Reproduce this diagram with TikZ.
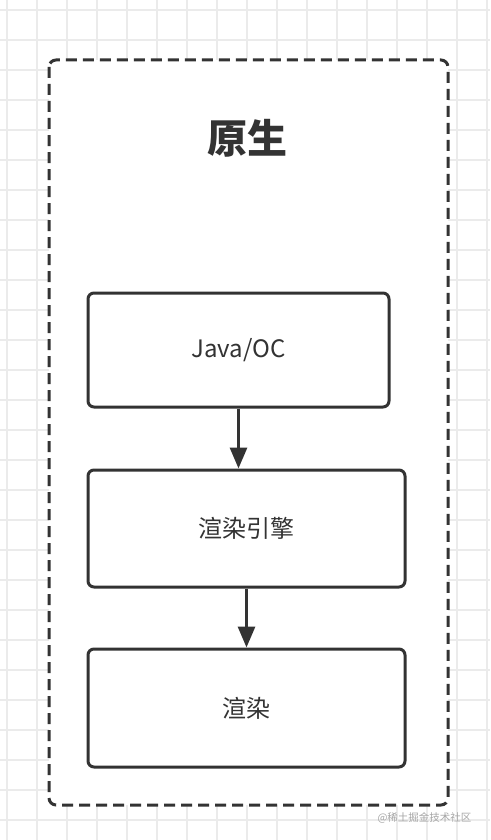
\documentclass[tikz,border=0pt]{standalone}
\usepackage{fontspec}
\setmainfont{Noto Sans CJK SC}
\usetikzlibrary{arrows.meta}
\definecolor{ink}{HTML}{333333}
\definecolor{gridgray}{HTML}{EBEBEB}
\begin{document}
\begin{tikzpicture}[x=1pt,y=-1pt,
        box/.style={draw=ink,line width=3pt,rounded corners=6pt,fill=white,inner sep=0pt,text=ink,font=\fontsize{24}{28}\selectfont},
        flow/.style={draw=ink,line width=3pt,-{Triangle[length=21pt,width=17pt]}}]
            \useasboundingbox (0,0) rectangle (490,840);
            \fill [white] (0,0) rectangle (490,840);
            % grid
            \foreach \gx in {7,37,...,487} \draw [gridgray,line width=1.2pt] (\gx,0) -- (\gx,840);
            \foreach \gy in {10,40,...,830} \draw [gridgray,line width=1.2pt] (0,\gy) -- (490,\gy);
            % dashed frame
            \draw [ink,fill=white,line width=3pt,rounded corners=7pt,dash pattern=on 11pt off 6pt] (49,60) rectangle (448,805);
            \node [text=ink,font=\bfseries\fontsize{40}{44}\selectfont] (title) at (247,138) {原生};
            \node [box,minimum width=301pt,minimum height=114pt] (java) at (238.5,350) {Java/OC};
            \node [box,minimum width=317pt,minimum height=117pt] (engine) at (246.5,528.5) {渲染引擎};
            \node [box,minimum width=317pt,minimum height=118pt] (render) at (246.5,708) {渲染};
            \draw [flow] (java.south) -- (java.south |- engine.north);
            \draw [flow] (engine.south) -- (render.north);
            \node [text=gray!70,font=\fontsize{10.5}{12}\selectfont,anchor=east] (mark) at (475,818) {@稀土掘金技术社区};
        \end{tikzpicture}
\end{document}
